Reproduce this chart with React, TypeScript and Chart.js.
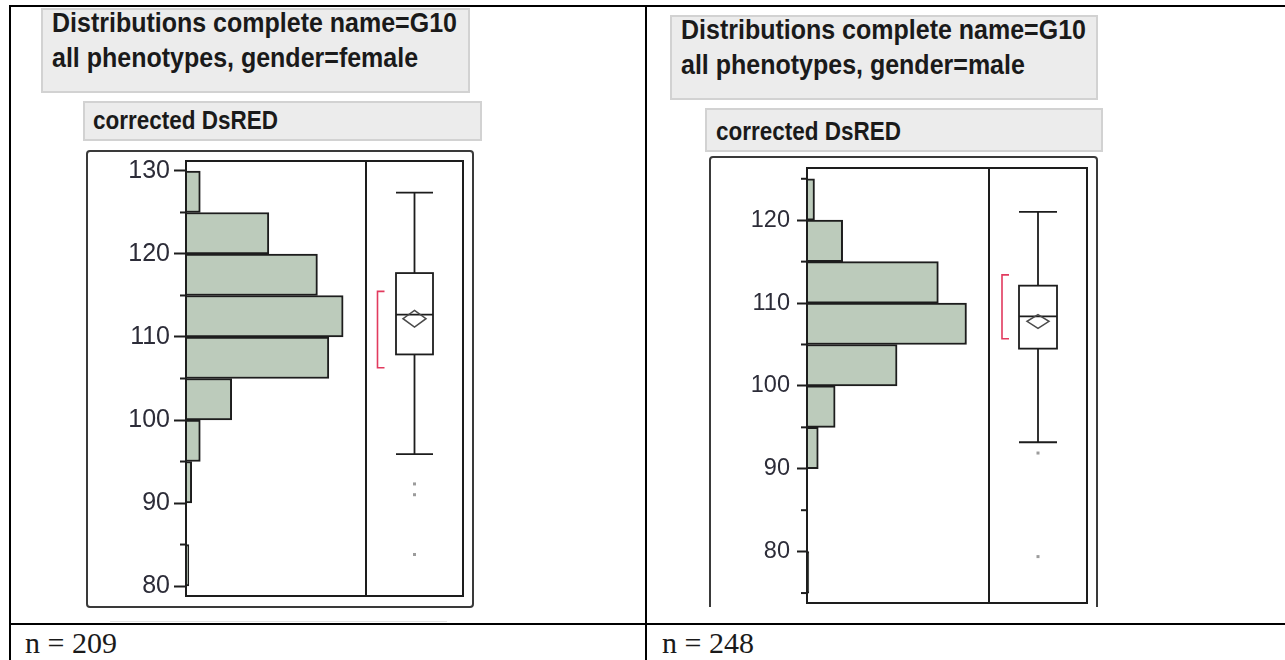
import React, { useEffect, useRef } from "react";
import { Chart, registerables } from "chart.js";

Chart.register(...registerables);

// ---- corrected DsRED, complete name = G10 ----
// Histogram: centres of the 5-unit bins and their counts
const femaleBinCenters = [127.5, 122.5, 117.5, 112.5, 107.5, 102.5, 97.5, 92.5, 87.5, 82.5];
const femaleCounts = [5, 29, 46, 55, 50, 16, 5, 2, 0, 1];
const maleBinCenters = [122.5, 117.5, 112.5, 107.5, 102.5, 97.5, 92.5, 87.5, 82.5, 77.5];
const maleCounts = [4, 19, 70, 85, 48, 15, 6, 0, 0, 1];

// Outlier box plot: [lower whisker, Q1, median, Q3, upper whisker]
const femaleBox = [95.9, 107.9, 112.7, 117.7, 127.4];
const maleBox = [93.2, 104.5, 108.4, 112.1, 121.0];
// Mean confidence diamond: [lower 95%, mean, upper 95%]
const femaleMeanCI = [111.2, 112.2, 113.2];
const maleMeanCI = [106.95, 107.8, 108.6];
// Shortest half bracket: [low, high]
const femaleShortestHalf = [106.3, 115.5];
const maleShortestHalf = [105.7, 113.4];
// Points beyond the whiskers
const femaleOutliers = [92.3, 91.0, 83.8];
const maleOutliers = [91.9, 79.4];

// Axis ranges and histogram column extent (in counts)
const femaleRange = [78.8, 131.2];
const maleRange = [73.8, 126.3];
const femaleHistSpan = 63;
const maleHistSpan = 97;
const majorStep = 10;
const minorStep = 5;

const sampleSizes = [209, 248];
const femaleTitle = ["Distributions complete name=G10", "all phenotypes, gender=female"];
const maleTitle = ["Distributions complete name=G10", "all phenotypes, gender=male"];
const variableName = "corrected DsRED";

type Panel = {
  centers: number[];
  counts: number[];
  box: number[];
  meanCI: number[];
  shortestHalf: number[];
  outliers: number[];
  range: number[];
  histSpan: number;
  canvas: { left: number; top: number; width: number; height: number };
  pad: { left: number; right: number; top: number; bottom: number };
  histFraction: number;
  axisWidth: number;
  tickLength: number;
  tickPadding: number;
  fontSize: number;
  frame: { l: number; t: number; r: number; b: number; closed: boolean };
  boxWidth: number;
  diamondWidth: number;
  bracketOffset: number;
};

const panels: Panel[] = [
  {
    centers: femaleBinCenters,
    counts: femaleCounts,
    box: femaleBox,
    meanCI: femaleMeanCI,
    shortestHalf: femaleShortestHalf,
    outliers: femaleOutliers,
    range: femaleRange,
    histSpan: femaleHistSpan,
    canvas: { left: 80, top: 145, width: 400, height: 470 },
    pad: { left: 6, right: 17, top: 16, bottom: 19 },
    histFraction: 180 / 277,
    axisWidth: 100,
    tickLength: 12,
    tickPadding: 4,
    fontSize: 25,
    frame: { l: 99, t: 10, r: 10, b: 11, closed: true },
    boxWidth: 37,
    diamondWidth: 23,
    bracketOffset: 37,
  },
  {
    centers: maleBinCenters,
    counts: maleCounts,
    box: maleBox,
    meanCI: maleMeanCI,
    shortestHalf: maleShortestHalf,
    outliers: maleOutliers,
    range: maleRange,
    histSpan: maleHistSpan,
    canvas: { left: 700, top: 150, width: 400, height: 460 },
    pad: { left: 7, right: 13, top: 18, bottom: 7 },
    histFraction: 182 / 280,
    axisWidth: 100,
    tickLength: 10,
    tickPadding: 7,
    fontSize: 23.5,
    frame: { l: 97, t: 11, r: 10, b: 4, closed: false },
    boxWidth: 38,
    diamondWidth: 22,
    bracketOffset: 36,
  },
];

const INK = "#1d1d1d";

function overlayPlugin(p: Panel) {
  return {
    id: "distributionOverlay",
    afterDatasetsDraw(chart: any) {
      const { ctx, chartArea: a, scales } = chart;
      const x = scales.x;
      const y = scales.y;
      const divX = x.getPixelForValue(p.histSpan);
      ctx.save();

      // outer report frame
      const f = p.frame;
      ctx.strokeStyle = "#3a3a3a";
      ctx.lineWidth = 2;
      ctx.beginPath();
      const ol = a.left - f.l;
      const ot = a.top - f.t;
      const or = a.right + f.r;
      const ob = a.bottom + f.b;
      if (f.closed) {
        ctx.roundRect(ol, ot, or - ol, ob - ot, 3);
      } else {
        ctx.moveTo(ol, ob);
        ctx.lineTo(ol, ot + 3);
        ctx.quadraticCurveTo(ol, ot, ol + 3, ot);
        ctx.lineTo(or - 3, ot);
        ctx.quadraticCurveTo(or, ot, or, ot + 3);
        ctx.lineTo(or, ob);
      }
      ctx.stroke();

      // plot frame and column divider
      ctx.strokeStyle = INK;
      ctx.lineWidth = 2;
      ctx.strokeRect(a.left, a.top, a.right - a.left, a.bottom - a.top);
      ctx.beginPath();
      ctx.moveTo(divX, a.top);
      ctx.lineTo(divX, a.bottom);
      ctx.stroke();

      // minor ticks
      ctx.lineWidth = 2;
      for (let v = Math.ceil(y.min / minorStep) * minorStep; v <= y.max; v += minorStep) {
        if (v % majorStep === 0) continue;
        const py = y.getPixelForValue(v);
        ctx.beginPath();
        ctx.moveTo(a.left - 6, py);
        ctx.lineTo(a.left, py);
        ctx.stroke();
      }

      // outlier box plot
      const cx = (divX + a.right) / 2;
      const [wLo, q1, med, q3, wHi] = p.box.map((v) => y.getPixelForValue(v));
      const hw = p.boxWidth / 2;
      ctx.strokeStyle = INK;
      ctx.lineWidth = 1.8;
      ctx.beginPath();
      ctx.moveTo(cx, wHi);
      ctx.lineTo(cx, q3);
      ctx.moveTo(cx, q1);
      ctx.lineTo(cx, wLo);
      ctx.moveTo(cx - hw, wHi);
      ctx.lineTo(cx + hw, wHi);
      ctx.moveTo(cx - hw, wLo);
      ctx.lineTo(cx + hw, wLo);
      ctx.stroke();
      ctx.fillStyle = "#ffffff";
      ctx.fillRect(cx - hw, q3, p.boxWidth, q1 - q3);
      ctx.strokeRect(cx - hw, q3, p.boxWidth, q1 - q3);
      ctx.beginPath();
      ctx.moveTo(cx - hw, med);
      ctx.lineTo(cx + hw, med);
      ctx.stroke();

      // mean diamond
      const [ciLo, mean, ciHi] = p.meanCI.map((v) => y.getPixelForValue(v));
      const dw = p.diamondWidth / 2;
      ctx.strokeStyle = "#4a4a4a";
      ctx.lineWidth = 1.5;
      ctx.beginPath();
      ctx.moveTo(cx, ciHi);
      ctx.lineTo(cx + dw, mean);
      ctx.lineTo(cx, ciLo);
      ctx.lineTo(cx - dw, mean);
      ctx.closePath();
      ctx.stroke();

      // shortest half bracket
      const bx = cx - p.bracketOffset;
      const sLo = y.getPixelForValue(p.shortestHalf[0]);
      const sHi = y.getPixelForValue(p.shortestHalf[1]);
      ctx.strokeStyle = "#e23a5e";
      ctx.lineWidth = 1.6;
      ctx.beginPath();
      ctx.moveTo(bx + 7, sHi);
      ctx.lineTo(bx, sHi);
      ctx.lineTo(bx, sLo);
      ctx.lineTo(bx + 7, sLo);
      ctx.stroke();

      // outlying points
      ctx.fillStyle = "#9c9c9c";
      for (const v of p.outliers) {
        const py = y.getPixelForValue(v);
        ctx.fillRect(cx - 1.5, py - 1.5, 3, 3);
      }
      ctx.restore();
    },
  };
}

function DistributionPanel({ p }: { p: Panel }) {
  const ref = useRef<HTMLCanvasElement | null>(null);
  useEffect(() => {
    if (!ref.current) return;
    const xMax = p.histSpan / p.histFraction;
    const chart = new Chart(ref.current, {
      type: "bar",
      data: {
        datasets: [
          {
            data: p.centers.map((c, i) => ({ x: p.counts[i], y: c })),
            backgroundColor: "#bccbbb",
            borderColor: INK,
            borderWidth: 2,
            borderSkipped: "start",
            barPercentage: 1,
            categoryPercentage: 1,
          } as any,
        ],
      },
      options: {
        indexAxis: "y",
        animation: false,
        responsive: false,
        maintainAspectRatio: false,
        events: [],
        layout: { padding: p.pad },
        plugins: { legend: { display: false }, tooltip: { enabled: false } },
        scales: {
          x: { type: "linear", display: false, min: 0, max: xMax, offset: false },
          y: {
            type: "linear",
            min: p.range[0],
            max: p.range[1],
            offset: false,
            afterFit: (s: any) => {
              s.width = p.axisWidth;
              s.paddingTop = 0;
              s.paddingBottom = 0;
            },
            border: { display: false },
            grid: {
              offset: false,
              drawOnChartArea: false,
              drawTicks: true,
              tickLength: p.tickLength,
              tickWidth: 2,
              tickColor: INK,
            },
            ticks: {
              stepSize: majorStep,
              includeBounds: false,
              padding: p.tickPadding,
              color: "#2c2c38",
              font: { family: '"Liberation Sans", Arial, sans-serif', size: p.fontSize },
            },
          },
        },
      } as any,
      plugins: [overlayPlugin(p)],
    });
    return () => chart.destroy();
  }, [p]);
  return (
    <canvas
      ref={ref}
      width={p.canvas.width}
      height={p.canvas.height}
      style={{
        position: "absolute",
        left: p.canvas.left,
        top: p.canvas.top,
        width: p.canvas.width,
        height: p.canvas.height,
      }}
    />
  );
}

const SANS = '"Liberation Sans", Arial, sans-serif';
const SERIF = '"Liberation Serif", "Times New Roman", serif';

function Text({ x, baseline, size, family, bold, stretch = 1, children }: any) {
  const k = family === SERIF ? 0.8375 : 0.8465;
  return (
    <div
      style={{
        position: "absolute",
        left: x,
        top: baseline - k * size,
        height: size,
        fontFamily: family,
        fontSize: size,
        fontWeight: bold ? 700 : 400,
        lineHeight: 1,
        whiteSpace: "nowrap",
        color: "#1a1a1a",
        transform: stretch !== 1 ? `scaleY(${stretch})` : undefined,
        transformOrigin: `0 ${k * size}px`,
      }}
    >
      {children}
    </div>
  );
}

function Box({ x, y, w, h }: any) {
  return (
    <div
      style={{
        position: "absolute",
        left: x,
        top: y,
        width: w,
        height: h,
        background: "#ececec",
        border: "2px solid #d2d2d2",
        boxSizing: "border-box",
      }}
    />
  );
}

function Rule({ x, y, w, h, c = "#000" }: any) {
  return <div style={{ position: "absolute", left: x, top: y, width: w, height: h, background: c }} />;
}

export default function App() {
  return (
    <div
      style={{
        position: "absolute",
        left: 0,
        top: 0,
        width: 1285,
        height: 660,
        background: "#fff",
        overflow: "hidden",
      }}
    >
      {/* table rules */}
      <Rule x={10} y={5} w={1275} h={1.5} />
      <Rule x={583} y={4.5} w={73} h={2.5} />
      <Rule x={1214} y={4.5} w={71} h={2.5} />
      <Rule x={9} y={5} w={2} h={655} />
      <Rule x={645} y={5} w={2} h={655} />
      <Rule x={9} y={623} w={1276} h={2} />
      <Rule x={110} y={620.5} w={337} h={1} c="#e2e2e2" />

      {/* female column headers */}
      <Box x={41} y={8} w={429} h={85} />
      <Text x={52} baseline={32} size={25} family={SANS} bold stretch={1.07}>
        {femaleTitle[0]}
      </Text>
      <Text x={52} baseline={67} size={25} family={SANS} bold stretch={1.07}>
        {femaleTitle[1]}
      </Text>
      <Box x={83} y={101} w={399} h={40} />
      <Text x={93} baseline={130} size={22.5} family={SANS} bold stretch={1.12}>
        {variableName}
      </Text>

      {/* male column headers */}
      <Box x={670} y={15} w={428} h={85} />
      <Text x={681} baseline={39} size={25} family={SANS} bold stretch={1.07}>
        {maleTitle[0]}
      </Text>
      <Text x={681} baseline={74} size={25} family={SANS} bold stretch={1.07}>
        {maleTitle[1]}
      </Text>
      <Box x={705} y={108} w={398} h={44} />
      <Text x={716} baseline={141} size={22.5} family={SANS} bold stretch={1.12}>
        {variableName}
      </Text>

      <DistributionPanel p={panels[0]} />
      <DistributionPanel p={panels[1]} />

      <Text x={25} baseline={653} size={30} family={SERIF}>
        {`n = ${sampleSizes[0]}`}
      </Text>
      <Text x={662} baseline={653} size={30} family={SERIF}>
        {`n = ${sampleSizes[1]}`}
      </Text>
    </div>
  );
}
